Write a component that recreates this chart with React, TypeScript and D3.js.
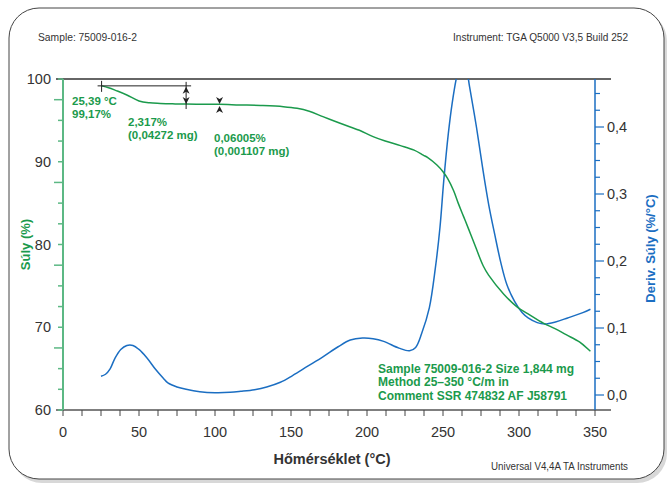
import React from "react";
import * as d3 from "d3";

const weightT = [25.4, 30, 35, 42, 50, 57, 64, 72, 81, 95, 103, 116, 130, 145, 154, 162, 171, 181, 189, 195, 204, 212, 222, 231, 237, 240, 246, 250, 253, 257, 260, 263.5, 267, 270, 276.5, 280, 290, 298.5, 307, 316, 324, 331, 340, 347];
const weightV = [99.17, 98.95, 98.6, 98.07, 97.35, 97.12, 97.05, 97.0, 96.97, 96.95, 96.94, 96.87, 96.8, 96.66, 96.46, 96.1, 95.45, 94.75, 94.2, 93.8, 93.04, 92.5, 91.95, 91.4, 90.8, 90.5, 89.6, 88.8, 88.0, 86.5, 85.0, 83.4, 81.8, 80.4, 77.4, 76.3, 74.0, 72.5, 71.5, 70.5, 69.8, 69.1, 68.2, 67.1];

const derivT = [25, 28, 31, 34, 38, 42, 46, 50, 55, 61, 66, 69, 75, 81, 90, 100, 110, 117, 126, 134, 143, 151, 161, 171, 181, 189, 197, 204, 211, 221, 228, 232, 236, 241, 245, 248, 250.5, 253.5, 256, 259, 262, 265, 267.5, 272, 276, 280, 284, 288, 292, 297, 302, 306, 312, 317, 324, 332, 342, 347];
const derivV = [0.028, 0.031, 0.039, 0.054, 0.068, 0.074, 0.074, 0.068, 0.056, 0.038, 0.025, 0.018, 0.012, 0.0085, 0.005, 0.0035, 0.004, 0.0055, 0.008, 0.012, 0.019, 0.029, 0.043, 0.057, 0.072, 0.082, 0.085, 0.084, 0.08, 0.07, 0.066, 0.071, 0.092, 0.13, 0.19, 0.25, 0.32, 0.39, 0.435, 0.475, 0.5, 0.49, 0.46, 0.4, 0.34, 0.285, 0.24, 0.198, 0.165, 0.14, 0.123, 0.115, 0.108, 0.106, 0.109, 0.115, 0.123, 0.128];

const xTickLabels = [0, 50, 100, 150, 200, 250, 300, 350];
const yLeftLabels = [60, 70, 80, 90, 100];
const yRightLabels = [0, 0.1, 0.2, 0.3, 0.4];

// annotation values
const startT = 25.39;
const startW = 99.17;
const step1T = 81;
const step1Loss = 2.317;
const step2T = 103;
const step2W = 96.85;

const annoTexts = [
  ["25,39 °C", "99,17%"],
  ["2,317%", "(0,04272 mg)"],
  ["0,06005%", "(0,001107 mg)"],
];
const infoLines = ["Sample 75009-016-2 Size 1,844 mg", "Method 25–350 °C/m in", "Comment SSR 474832 AF J58791"];

const GREEN = "#1b9a4c";
const GREEN_AXIS = "#5cb884";
const BLUE = "#1b6ec2";
const GRAY = "#333";
const FONT = "'Liberation Sans', Arial, Helvetica, sans-serif";

export default function App() {
  const L = 63, R = 595, T = 79, B = 410;
  const x = d3.scaleLinear().domain([0, 350]).range([L, R]);
  const yW = d3.scaleLinear().domain([60, 100]).range([B, T]);
  const yD = d3.scaleLinear().domain([0, 0.1]).range([395, 328]);

  const wLine = d3.line<number>().x((_, i) => x(weightT[i])).y((v) => yW(v)).curve(d3.curveCatmullRom.alpha(0.5));
  const dLine = d3.line<number>().x((_, i) => x(derivT[i])).y((v) => yD(v)).curve(d3.curveCatmullRom.alpha(0.5));

  const xMinor = d3.range(0, 350.01, 12.5);
  const yLeftTicks = d3.range(60, 100.01, 2.5);
  const yRightTicks = d3.range(0, 0.4501, 0.025);

  const ax = x(startT);
  const ay = yW(startW);
  const s1x = x(step1T);
  const s1y = yW(startW - step1Loss);
  const s2x = x(step2T);
  const s2y = yW(step2W);

  const arrowUp = (cx: number, tipY: number, c = "#222") => (
    <path d={`M${cx},${tipY} L${cx - 3.5},${tipY + 7} L${cx},${tipY + 5} L${cx + 3.5},${tipY + 7} Z`} fill={c} />
  );
  const arrowDown = (cx: number, tipY: number, c = "#222") => (
    <path d={`M${cx},${tipY} L${cx - 3.5},${tipY - 7} L${cx},${tipY - 5} L${cx + 3.5},${tipY - 7} Z`} fill={c} />
  );

  return (
    <svg width={667} height={486} style={{ position: "absolute", left: 0, top: 0, background: "#fff" }} fontFamily={FONT}>
      <defs>
        <clipPath id="plotClip">
          <rect x={L} y={T} width={R - L} height={B - T} />
        </clipPath>
      </defs>
      {/* frame with shadow */}
      <rect x={12} y={11} width={655} height={472} rx={30} fill="#d8d8d8" />
      <rect x={9} y={8} width={655} height={471} rx={30} fill="#fff" stroke="#444" strokeWidth={1} />

      {/* header texts */}
      <text x={38} y={41} fontSize={11} fill={GRAY} textLength={99} lengthAdjust="spacingAndGlyphs">Sample: 75009-016-2</text>
      <text x={453} y={41} fontSize={11} fill={GRAY} textLength={175} lengthAdjust="spacingAndGlyphs">Instrument: TGA Q5000 V3,5 Build 252</text>
      <text x={491} y={470} fontSize={11} fill={GRAY} textLength={137} lengthAdjust="spacingAndGlyphs">Universal V4,4A TA Instruments</text>

      {/* top & bottom frame lines */}
      <line x1={56} x2={611} y1={T} y2={T} stroke="#333" strokeWidth={1.5} />
      <line x1={56} x2={611} y1={B} y2={B} stroke="#555" strokeWidth={1.5} />

      {/* bottom ticks */}
      {xMinor.map((t) => (
        <line key={"xt" + t} x1={x(t)} x2={x(t)} y1={B} y2={B + 6} stroke="#444" strokeWidth={1} />
      ))}
      {xTickLabels.map((t) => (
        <text key={"xl" + t} x={x(t)} y={437} fontSize={14.5} fill={GRAY} textAnchor="middle">{t}</text>
      ))}
      <text x={332} y={464} fontSize={14.5} fontWeight="bold" fill={GRAY} textAnchor="middle">Hőmérséklet (°C)</text>

      {/* left axis */}
      <line x1={L} x2={L} y1={T} y2={B} stroke={GREEN_AXIS} strokeWidth={2} />
      {yLeftTicks.map((v) => {
        const long = Math.abs((v % 10) - 7.5) < 0.01;
        return <line key={"yl" + v} x1={L - (long ? 9 : 5)} x2={L} y1={yW(v)} y2={yW(v)} stroke={GREEN_AXIS} strokeWidth={1.5} />;
      })}
      {yLeftLabels.map((v) => (
        <text key={"yll" + v} x={51} y={yW(v)} dy="0.36em" fontSize={14.5} fill={GRAY} textAnchor="end">{v}</text>
      ))}
      <text transform={`translate(30,${(T + B) / 2}) rotate(-90)`} fontSize={13} fontWeight="bold" fill={GREEN} textAnchor="middle">Súly (%)</text>

      {/* right axis */}
      <line x1={R} x2={R} y1={T} y2={B} stroke={BLUE} strokeWidth={1.5} />
      {yRightTicks.map((v) => {
        const major = Math.abs(v * 10 - Math.round(v * 10)) < 0.001;
        return <line key={"yr" + v} x1={R} x2={R + (major ? 9 : 5)} y1={yD(v)} y2={yD(v)} stroke={BLUE} strokeWidth={1.2} />;
      })}
      {yRightLabels.map((v) => (
        <text key={"yrl" + v} x={607} y={yD(v)} dy="0.36em" fontSize={14.5} fill={GRAY} textAnchor="start">{v.toFixed(1).replace(".", ",")}</text>
      ))}
      <text transform={`translate(655,${(T + B) / 2 + 4}) rotate(-90)`} fontSize={13} fontWeight="bold" fill={BLUE} textAnchor="middle">Deriv. Súly (%/°C)</text>

      {/* curves */}
      <g clipPath="url(#plotClip)">
        <path d={dLine(derivV) || ""} fill="none" stroke={BLUE} strokeWidth={1.5} />
        <path d={wLine(weightV) || ""} fill="none" stroke={GREEN} strokeWidth={1.5} />
      </g>

      {/* annotation marks */}
      <line x1={ax - 4} x2={x(step1T) + 5} y1={ay} y2={ay} stroke="#222" strokeWidth={1} />
      <line x1={ax} x2={ax} y1={ay - 5} y2={ay + 6} stroke="#222" strokeWidth={1} />
      <line x1={s1x} x2={s1x} y1={ay - 4} y2={s1y + 4} stroke="#222" strokeWidth={1} />
      {arrowUp(s1x, ay + 1)}
      {arrowDown(s1x, s1y - 1)}
      {arrowDown(s2x, s2y - 1)}
      {arrowUp(s2x, s2y + 1)}

      {/* annotation texts */}
      <g fontSize={11.5} fontWeight="bold" fill={GREEN}>
        <text x={72} y={105}>{annoTexts[0][0]}</text>
        <text x={72} y={118}>{annoTexts[0][1]}</text>
        <text x={128} y={126}>{annoTexts[1][0]}</text>
        <text x={128} y={139}>{annoTexts[1][1]}</text>
        <text x={214} y={142}>{annoTexts[2][0]}</text>
        <text x={214} y={155}>{annoTexts[2][1]}</text>
      </g>
      <g fontSize={12} fontWeight="bold" fill={GREEN}>
        {infoLines.map((s, i) => (
          <text key={"info" + i} x={378} y={372.5 + i * 13.5}>{s}</text>
        ))}
      </g>
    </svg>
  );
}
